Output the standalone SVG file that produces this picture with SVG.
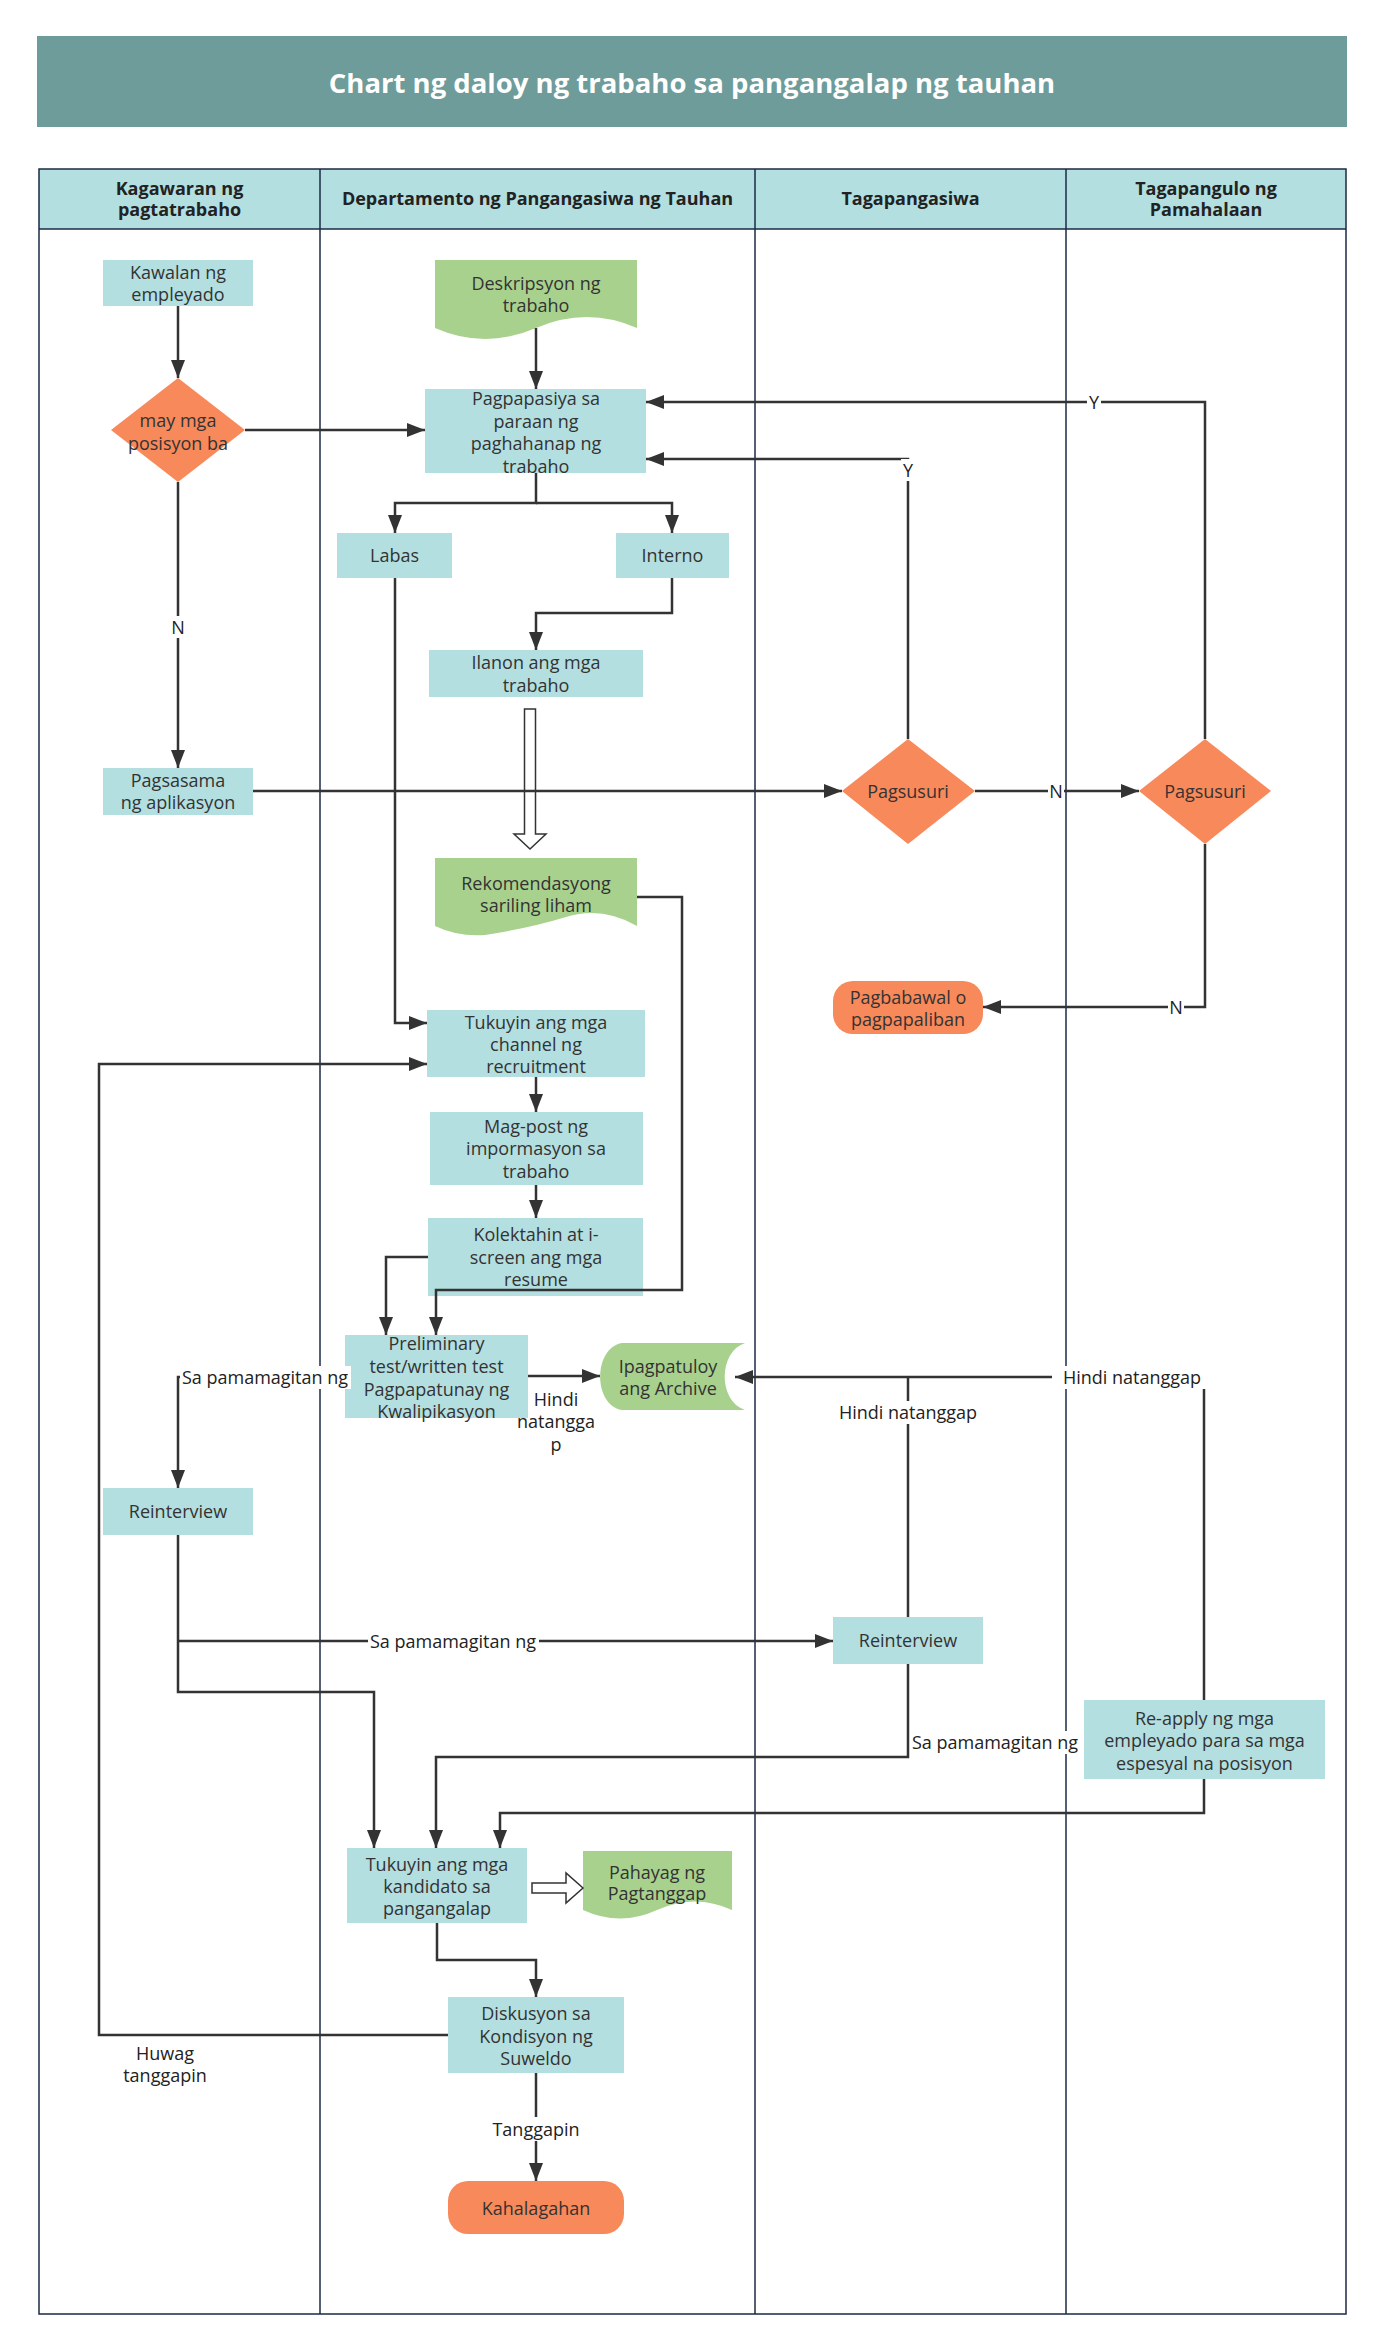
<svg xmlns="http://www.w3.org/2000/svg" width="1382" height="2350" viewBox="0 0 1382 2350">
<defs>
<style>
.t{font-family:"Open Sans","Noto Sans","Liberation Sans",sans-serif;font-size:18px;fill:#333;text-anchor:middle;dominant-baseline:central}
.h{font-family:"Open Sans","Noto Sans","Liberation Sans",sans-serif;font-size:18px;font-weight:bold;fill:#222;text-anchor:middle;dominant-baseline:central}
.lb2{font-family:"Open Sans","Noto Sans","Liberation Sans",sans-serif;font-size:18px;fill:#222;text-anchor:middle;dominant-baseline:central}
.bg{fill:#fff}
.box{fill:#b3dfe0}
.doc{fill:#a8d18d}
.dec{fill:#f8895a}
.ln{fill:none;stroke:#333;stroke-width:2.5}
.lane{fill:none;stroke:#1b2a44;stroke-width:1.5}
.hol{fill:#fff;stroke:#333;stroke-width:1.5}
</style>
<marker id="ah" markerUnits="userSpaceOnUse" markerWidth="18" markerHeight="14" refX="18" refY="7" orient="auto"><path d="M0,0 L18,7 L0,14 Z" fill="#333"/></marker>
</defs>
<rect width="1382" height="2350" fill="#fff"/>
<g id="title">
<rect x="37" y="36" width="1310" height="91" fill="#6e9c9a"/>
<text x="692" y="82" style="font-family:'Open Sans','Noto Sans','Liberation Sans',sans-serif;font-size:27.5px;font-weight:bold;fill:#fff;text-anchor:middle;dominant-baseline:central">Chart ng daloy ng trabaho sa pangangalap ng tauhan</text>
</g>
<g id="lanes">
<rect x="39" y="169" width="1307" height="60" fill="#b3dfe0"/>
<rect x="39" y="169" width="1307" height="2145" class="lane"/>
<line x1="39" y1="229" x2="1346" y2="229" class="lane"/>
<line x1="320" y1="169" x2="320" y2="2314" class="lane"/>
<line x1="755" y1="169" x2="755" y2="2314" class="lane"/>
<line x1="1066" y1="169" x2="1066" y2="2314" class="lane"/>
<text class="h" x="179.5" y="188">Kagawaran ng</text>
<text class="h" x="179.5" y="209">pagtatrabaho</text>
<text class="h" x="537.5" y="198">Departamento ng Pangangasiwa ng Tauhan</text>
<text class="h" x="910.5" y="198">Tagapangasiwa</text>
<text class="h" x="1206" y="188">Tagapangulo ng</text>
<text class="h" x="1206" y="209">Pamahalaan</text>
</g>
<g id="n_kawalan"><rect class="box" x="103" y="260" width="150" height="46"/><text class="t" x="178" y="272">Kawalan ng</text><text class="t" x="178" y="294">empleyado</text></g>
<g id="n_maymga"><polygon class="dec" points="178,378 245,430 178,482 111,430"/><text class="t" x="178" y="420">may mga</text><text class="t" x="178" y="443">posisyon ba</text></g>
<g id="n_deskripsyon"><path class="doc" d="M435,260 H637 V328 Q587,306 536,328 Q485,350 435,328 Z"/><text class="t" x="536" y="283">Deskripsyon ng</text><text class="t" x="536" y="305">trabaho</text></g>
<g id="n_pagpapasiya"><rect class="box" x="425" y="389" width="221" height="84"/><text class="t" x="536" y="398">Pagpapasiya sa</text><text class="t" x="536" y="421">paraan ng</text><text class="t" x="536" y="443">paghahanap ng</text><text class="t" x="536" y="466">trabaho</text></g>
<g id="n_labas"><rect class="box" x="337" y="533" width="115" height="45"/><text class="t" x="394.5" y="555">Labas</text></g>
<g id="n_interno"><rect class="box" x="616" y="533" width="113" height="45"/><text class="t" x="672.5" y="555">Interno</text></g>
<g id="n_ilanon"><rect class="box" x="429" y="650" width="214" height="47"/><text class="t" x="536" y="662">Ilanon ang mga</text><text class="t" x="536" y="685">trabaho</text></g>
<g id="n_pagsasama"><rect class="box" x="103" y="768" width="150" height="47"/><text class="t" x="178" y="780">Pagsasama</text><text class="t" x="178" y="802">ng aplikasyon</text></g>
<g id="n_pagsusuri1"><polygon class="dec" points="908,739 975,791 908,844 842,791"/><text class="t" x="908" y="791">Pagsusuri</text></g>
<g id="n_pagsusuri2"><polygon class="dec" points="1205,739 1271,791 1205,844 1139,791"/><text class="t" x="1205" y="791">Pagsusuri</text></g>
<g id="n_rekomendasyong"><path class="doc" d="M435,858 H637 V926 Q602,906 566,917 Q530,928 485,935 Q458,937 435,926 Z"/><text class="t" x="536" y="883">Rekomendasyong</text><text class="t" x="536" y="905">sariling liham</text></g>
<g id="n_pagbabawal"><rect class="dec" x="833" y="981" width="150" height="53" rx="20"/><text class="t" x="908" y="997">Pagbabawal o</text><text class="t" x="908" y="1019">pagpapaliban</text></g>
<g id="n_tukuyin_channel"><rect class="box" x="427" y="1010" width="218" height="67"/><text class="t" x="536" y="1022">Tukuyin ang mga</text><text class="t" x="536" y="1044">channel ng</text><text class="t" x="536" y="1066">recruitment</text></g>
<g id="n_magpost"><rect class="box" x="430" y="1112" width="213" height="73"/><text class="t" x="536" y="1126">Mag-post ng</text><text class="t" x="536" y="1148">impormasyon sa</text><text class="t" x="536" y="1171">trabaho</text></g>
<g id="n_kolektahin"><rect class="box" x="428" y="1218" width="215" height="78"/><text class="t" x="536" y="1234">Kolektahin at i-</text><text class="t" x="536" y="1257">screen ang mga</text><text class="t" x="536" y="1279">resume</text></g>
<g id="n_preliminary"><rect class="box" x="345" y="1335" width="183" height="83"/><text class="t" x="436.5" y="1343">Preliminary</text><text class="t" x="436.5" y="1366">test/written test</text><text class="t" x="436.5" y="1389">Pagpapatunay ng</text><text class="t" x="436.5" y="1411">Kwalipikasyon</text></g>
<g id="n_archive"><path class="doc" d="M622,1343 H745 C718,1352 718,1401 745,1410 H622 C593,1405 593,1348 622,1343 Z"/><text class="t" x="668" y="1366">Ipagpatuloy</text><text class="t" x="668" y="1388">ang Archive</text></g>
<g id="n_reinterview1"><rect class="box" x="103" y="1488" width="150" height="47"/><text class="t" x="178" y="1511">Reinterview</text></g>
<g id="n_reinterview2"><rect class="box" x="833" y="1617" width="150" height="47"/><text class="t" x="908" y="1640">Reinterview</text></g>
<g id="n_reapply"><rect class="box" x="1084" y="1700" width="241" height="79"/><text class="t" x="1204.5" y="1718">Re-apply ng mga</text><text class="t" x="1204.5" y="1740">empleyado para sa mga</text><text class="t" x="1204.5" y="1763">espesyal na posisyon</text></g>
<g id="n_tukuyin_kandidato"><rect class="box" x="347" y="1848" width="180" height="75"/><text class="t" x="437" y="1864">Tukuyin ang mga</text><text class="t" x="437" y="1886">kandidato sa</text><text class="t" x="437" y="1908">pangangalap</text></g>
<g id="n_pahayag"><path class="doc" d="M583,1851 H732 V1910 Q695,1893 657,1910 Q620,1927 583,1910 Z"/><text class="t" x="657" y="1872">Pahayag ng</text><text class="t" x="657" y="1893">Pagtanggap</text></g>
<g id="n_diskusyon"><rect class="box" x="448" y="1997" width="176" height="76"/><text class="t" x="536" y="2013">Diskusyon sa</text><text class="t" x="536" y="2036">Kondisyon ng</text><text class="t" x="536" y="2058">Suweldo</text></g>
<g id="n_kahalagahan"><rect class="dec" x="448" y="2181" width="176" height="53" rx="20"/><text class="t" x="536" y="2208">Kahalagahan</text></g>
<g id="connectors">
<path class="ln" d="M178,306 V378" marker-end="url(#ah)"/>
<path class="ln" d="M245,430 H425" marker-end="url(#ah)"/>
<path class="ln" d="M536,328 V389" marker-end="url(#ah)"/>
<path class="ln" d="M536,473 V503 H395 V533" marker-end="url(#ah)"/>
<path class="ln" d="M536,503 H672 V533" marker-end="url(#ah)"/>
<path class="ln" d="M672,578 V613 H536 V650" marker-end="url(#ah)"/>
<polygon class="hol" points="524.5,709 535.5,709 535.5,834 546,834 530,849 514,834 524.5,834"/>
<path class="ln" d="M178,482 V768" marker-end="url(#ah)"/>
<path class="ln" d="M253,791 H842" marker-end="url(#ah)"/>
<path class="ln" d="M975,791 H1139" marker-end="url(#ah)"/>
<path class="ln" d="M1205,739 V402 H646" marker-end="url(#ah)"/>
<path class="ln" d="M908,739 V459 H646" marker-end="url(#ah)"/>
<path class="ln" d="M1205,844 V1007 H983" marker-end="url(#ah)"/>
<path class="ln" d="M395,578 V1023 H427" marker-end="url(#ah)"/>
<path class="ln" d="M448,2035 H99 V1064 H427" marker-end="url(#ah)"/>
<path class="ln" d="M536,1077 V1112" marker-end="url(#ah)"/>
<path class="ln" d="M536,1185 V1218" marker-end="url(#ah)"/>
<path class="ln" d="M637,897 H682 V1290 H436 V1335" marker-end="url(#ah)"/>
<path class="ln" d="M428,1257 H386 V1335" marker-end="url(#ah)"/>
<path class="ln" d="M528,1376 H600" marker-end="url(#ah)"/>
<path class="ln" d="M345,1377 H178 V1488" marker-end="url(#ah)"/>
<path class="ln" d="M1204,1700 V1377 H735" marker-end="url(#ah)"/>
<path class="ln" d="M908,1617 V1377"/>
<path class="ln" d="M178,1535 V1692 H374 V1848" marker-end="url(#ah)"/>
<path class="ln" d="M178,1641 H833" marker-end="url(#ah)"/>
<path class="ln" d="M908,1664 V1757 H436 V1848" marker-end="url(#ah)"/>
<path class="ln" d="M1204,1779 V1813 H500 V1848" marker-end="url(#ah)"/>
<polygon class="hol" points="532,1883 566,1883 566,1873 583,1888 566,1903 566,1893 532,1893"/>
<path class="ln" d="M437,1923 V1960 H536 V1997" marker-end="url(#ah)"/>
<path class="ln" d="M536,2073 V2181" marker-end="url(#ah)"/>
</g>
<g id="labels">
<rect class="bg" x="170" y="616" width="16" height="22"/><text class="lb2" x="178" y="627">N</text>
<rect class="bg" x="1048" y="780" width="16" height="22"/><text class="lb2" x="1056" y="791">N</text>
<rect class="bg" x="1168" y="996" width="16" height="22"/><text class="lb2" x="1176" y="1007">N</text>
<rect class="bg" x="1087" y="391" width="14" height="22"/><text class="lb2" x="1094" y="402">Y</text>
<rect class="bg" x="901" y="459" width="14" height="22"/><text class="lb2" x="908" y="470">Y</text>
<rect class="bg" x="180" y="1366" width="171" height="23"/><text class="lb2" x="265" y="1377">Sa pamamagitan ng</text>
<text class="lb2" x="556" y="1399">Hindi</text>
<text class="lb2" x="556" y="1421">natangga</text>
<text class="lb2" x="556" y="1444">p</text>
<rect class="bg" x="1052" y="1366" width="160" height="23"/><text class="lb2" x="1132" y="1377">Hindi natanggap</text>
<rect class="bg" x="828" y="1401" width="160" height="23"/><text class="lb2" x="908" y="1412">Hindi natanggap</text>
<rect class="bg" x="368" y="1630" width="171" height="23"/><text class="lb2" x="453" y="1641">Sa pamamagitan ng</text>
<rect class="bg" x="910" y="1731" width="171" height="23"/><text class="lb2" x="995" y="1742">Sa pamamagitan ng</text>
<text class="lb2" x="165" y="2053">Huwag</text>
<text class="lb2" x="165" y="2075">tanggapin</text>
<rect class="bg" x="488" y="2117" width="96" height="24"/><text class="lb2" x="536" y="2129">Tanggapin</text>
</g>
</svg>
